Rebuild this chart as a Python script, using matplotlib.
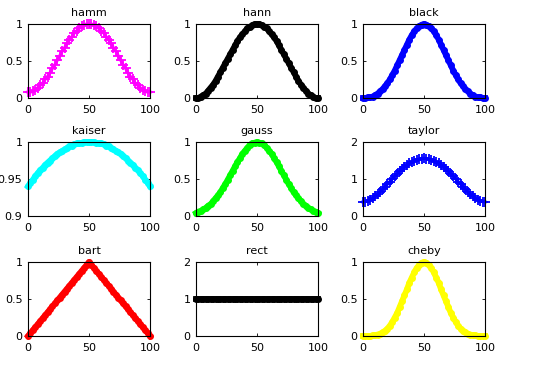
import matplotlib
matplotlib.use("Agg")
import matplotlib.pyplot as plt

plt.rcParams['font.family'] = ['DejaVu Sans']

# sample positions (every 2nd sample of a 101-point window)
x = list(range(0, 101, 2))

def sym(half):
    # half: values for x = 0..50 (26 values); mirror for x = 52..100
    return half + half[-2::-1]

hamm = sym([0.08, 0.08, 0.09, 0.11, 0.14, 0.17, 0.20, 0.25, 0.29, 0.34, 0.40, 0.45, 0.51,
            0.57, 0.63, 0.68, 0.74, 0.79, 0.83, 0.88, 0.91, 0.94, 0.97, 0.99, 1.00, 1.00])
hann = sym([0.00, 0.00, 0.02, 0.04, 0.06, 0.10, 0.14, 0.18, 0.23, 0.29, 0.35, 0.41, 0.47,
            0.53, 0.59, 0.65, 0.71, 0.77, 0.82, 0.86, 0.90, 0.94, 0.96, 0.98, 1.00, 1.00])
black = sym([0.00, 0.00, 0.01, 0.01, 0.02, 0.04, 0.06, 0.09, 0.12, 0.16, 0.20, 0.25, 0.31,
             0.37, 0.44, 0.51, 0.58, 0.65, 0.72, 0.79, 0.85, 0.90, 0.94, 0.97, 0.99, 1.00])
kaiser = sym([0.940, 0.945, 0.949, 0.954, 0.958, 0.962, 0.965, 0.969, 0.972, 0.975, 0.978,
              0.981, 0.984, 0.986, 0.988, 0.990, 0.992, 0.994, 0.995, 0.997, 0.998, 0.998,
              0.999, 1.000, 1.000, 1.000])
gauss = sym([0.04, 0.06, 0.07, 0.09, 0.11, 0.14, 0.16, 0.20, 0.24, 0.28, 0.32, 0.38, 0.43,
             0.49, 0.55, 0.61, 0.67, 0.73, 0.78, 0.84, 0.88, 0.92, 0.96, 0.98, 0.99, 1.00])
taylor = sym([0.38, 0.39, 0.41, 0.44, 0.48, 0.53, 0.59, 0.65, 0.72, 0.79, 0.86, 0.93, 1.00,
              1.08, 1.14, 1.21, 1.27, 1.33, 1.38, 1.42, 1.46, 1.50, 1.52, 1.54, 1.55, 1.56])
bart = sym([0.00, 0.04, 0.08, 0.12, 0.16, 0.20, 0.24, 0.28, 0.32, 0.36, 0.40, 0.44, 0.48,
            0.52, 0.56, 0.60, 0.64, 0.68, 0.72, 0.76, 0.80, 0.84, 0.88, 0.92, 0.96, 1.00])
rect = sym([1.0] * 26)
cheby = sym([0.00, 0.00, 0.00, 0.00, 0.01, 0.01, 0.02, 0.03, 0.05, 0.07, 0.10, 0.14, 0.19,
             0.25, 0.31, 0.39, 0.47, 0.55, 0.63, 0.72, 0.79, 0.86, 0.92, 0.96, 0.99, 1.00])

titles = ["hamm", "hann", "black", "kaiser", "gauss", "taylor", "bart", "rect", "cheby"]
series = [hamm, hann, black, kaiser, gauss, taylor, bart, rect, cheby]
colors = ["#FF00FF", "#000000", "#0000FF", "#00FFFF", "#00FF00", "#0000FF",
          "#FF0000", "#000000", "#FFFF00"]
markers = ["+", "o", "o", "o", "o", "+", "o", "o", "o"]
ylims = [(0, 1), (0, 1), (0, 1), (0.9, 1), (0, 1), (0, 2), (0, 1), (0, 2), (0, 1)]
yticks = [[0, 0.5, 1], [0, 0.5, 1], [0, 0.5, 1], [0.9, 0.95, 1], [0, 0.5, 1],
          [0, 1, 2], [0, 0.5, 1], [0, 1, 2], [0, 0.5, 1]]
yticklabels = [["0", "0.5", "1"], ["0", "0.5", "1"], ["0", "0.5", "1"],
               ["0.9", "0.95", "1"], ["0", "0.5", "1"], ["0", "1", "2"],
               ["0", "0.5", "1"], ["0", "1", "2"], ["0", "0.5", "1"]]

W, H = 545, 374
fig = plt.figure(figsize=(W / 100, H / 100), dpi=100)

lefts = [28, 196, 363]
tops = [24, 142, 262]
aw, ah = 122, 74

for i in range(9):
    r, c = divmod(i, 3)
    ax = fig.add_axes([lefts[c] / W, 1 - (tops[r] + ah) / H, aw / W, ah / H])
    if markers[i] == "+":
        ax.plot(x, series[i], color=colors[i], lw=2.2, marker="+", ms=6.5, mew=1.3,
                clip_on=False)
    else:
        ax.plot(x, series[i], color=colors[i], lw=4.2, marker="o", ms=4.0,
                clip_on=False)
    ax.set_xlim(0, 100)
    ax.set_ylim(*ylims[i])
    ax.set_xticks([0, 50, 100])
    ax.set_xticklabels(["0", "50", "100"])
    ax.set_yticks(yticks[i])
    ax.set_yticklabels(yticklabels[i])
    ax.tick_params(direction="in", length=2, width=0.6, labelsize=8,
                   top=True, right=True)
    ax.tick_params(axis="x", pad=5)
    ax.tick_params(axis="y", pad=4)
    for s in ax.spines.values():
        s.set_linewidth(0.8)
    ax.set_title(titles[i], fontsize=8, pad=6)

fig.savefig("out.png", dpi=100)
